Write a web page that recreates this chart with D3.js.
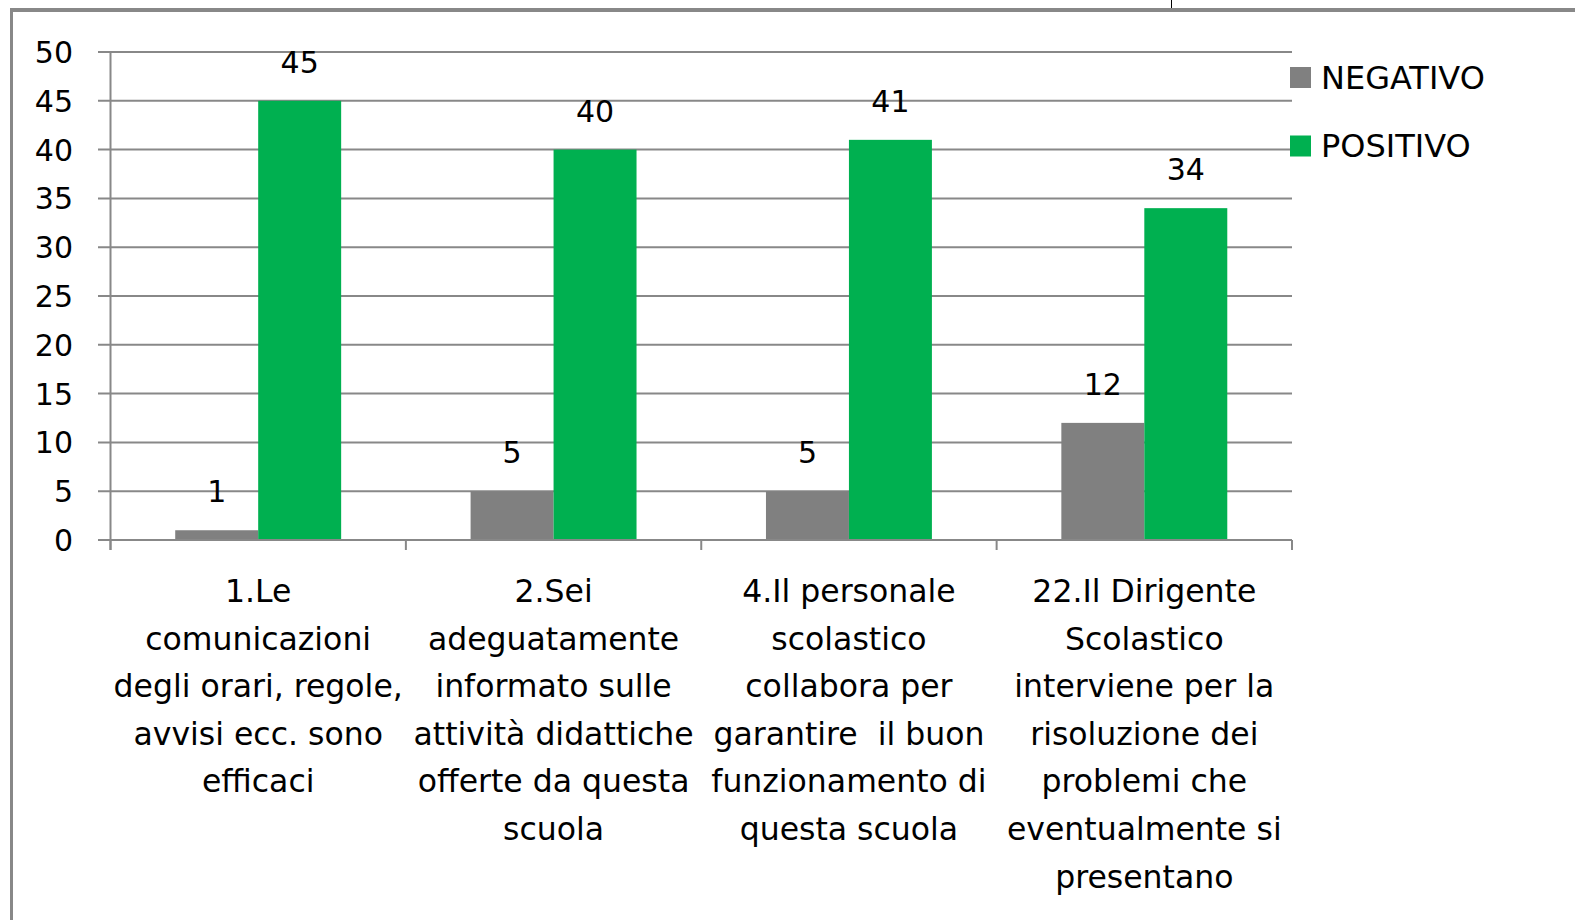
<!DOCTYPE html>
<html><head><meta charset="utf-8">
<script src="https://cdn.jsdelivr.net/npm/d3@7"></script>
<style>
html,body{margin:0;padding:0;background:#fff;}
svg text{font-family:"DejaVu Sans",sans-serif;fill:#000;}
</style></head>
<body>
<svg id="chart" width="1575" height="920"></svg>
<script>
const categories = [
  ["1.Le","comunicazioni","degli orari, regole,","avvisi ecc. sono","efficaci"],
  ["2.Sei","adeguatamente","informato sulle","attività didattiche","offerte da questa","scuola"],
  ["4.Il personale","scolastico","collabora per","garantire  il buon","funzionamento di","questa scuola"],
  ["22.Il Dirigente","Scolastico","interviene per la","risoluzione dei","problemi che","eventualmente si","presentano"]
];
const seriesNames = ["NEGATIVO","POSITIVO"];
const negativo = [1,5,5,12];
const positivo = [45,40,41,34];
const yTicks = [0,5,10,15,20,25,30,35,40,45,50];
const colors = ["#808080","#00B050"];

(function(){
const svg = d3.select("#chart");
const fs = 30;
const pLeft = 110.5, pRight = 1292, pTop = 52, pBottom = 540;

// frame
svg.append("line").attr("x1",10).attr("x2",1575).attr("y1",10).attr("y2",10).attr("stroke","#888").attr("stroke-width",4);
svg.append("line").attr("x1",11.5).attr("x2",11.5).attr("y1",8).attr("y2",920).attr("stroke","#888").attr("stroke-width",3);
svg.append("line").attr("x1",1171.5).attr("x2",1171.5).attr("y1",0).attr("y2",8).attr("stroke","#000").attr("stroke-width",1);

const idx = categories.map((d,i)=>i);
const x0 = d3.scaleBand().domain(idx).range([pLeft,pRight]).padding(0);
const x1 = d3.scaleBand().domain(seriesNames).range([0,x0.bandwidth()]).paddingInner(0).paddingOuter(0.78);
const y = d3.scaleLinear().domain([0,50]).range([pBottom,pTop]);

// gridlines
svg.append("g").selectAll("line").data(yTicks).join("line")
  .attr("x1",98).attr("x2",pRight).attr("y1",d=>y(d)).attr("y2",d=>y(d))
  .attr("stroke","#888").attr("stroke-width",2);

// y labels
svg.append("g").selectAll("text").data(yTicks).join("text")
  .attr("x",73).attr("y",d=>y(d)+11).attr("text-anchor","end")
  .attr("font-size",fs).text(d=>d);

// bars
const values = [negativo, positivo];
seriesNames.forEach((s,si)=>{
  const g = svg.append("g");
  g.selectAll("rect").data(values[si]).join("rect")
    .attr("x",(d,i)=>x0(i)+x1(s)).attr("width",x1.bandwidth())
    .attr("y",d=>y(d)).attr("height",d=>y(0)-y(d)).attr("fill",colors[si]);
  g.selectAll("text").data(values[si]).join("text")
    .attr("x",(d,i)=>x0(i)+x1(s)+x1.bandwidth()/2).attr("y",d=>y(d)-28)
    .attr("text-anchor","middle").attr("font-size",fs).text(d=>d);
});

// axes lines
svg.append("line").attr("x1",pLeft).attr("x2",pLeft).attr("y1",pTop).attr("y2",550).attr("stroke","#888").attr("stroke-width",2);
svg.append("line").attr("x1",98).attr("x2",pRight).attr("y1",pBottom).attr("y2",pBottom).attr("stroke","#888").attr("stroke-width",2);
const bounds = idx.map(i=>x0(i)).concat([pRight]);
svg.append("g").selectAll("line").data(bounds).join("line")
  .attr("x1",d=>d).attr("x2",d=>d).attr("y1",pBottom).attr("y2",550)
  .attr("stroke","#888").attr("stroke-width",2);

// category labels
const cg = svg.append("g");
categories.forEach((lines,i)=>{
  const t = cg.append("text").attr("text-anchor","middle").attr("font-size",31.5)
    .attr("x",x0(i)+x0.bandwidth()/2).attr("y",602).style("white-space","pre");
  lines.forEach((l,j)=>{
    t.append("tspan").attr("x",x0(i)+x0.bandwidth()/2).attr("y",602+j*47.6).text(l);
  });
});

// legend
const lg = svg.append("g");
seriesNames.forEach((s,i)=>{
  lg.append("rect").attr("x",1290).attr("y",67+i*68.5).attr("width",21).attr("height",21).attr("fill",colors[i]);
  lg.append("text").attr("x",1321).attr("y",88.5+i*68.5).attr("font-size",32).text(s);
});
})();
</script>
</body></html>
